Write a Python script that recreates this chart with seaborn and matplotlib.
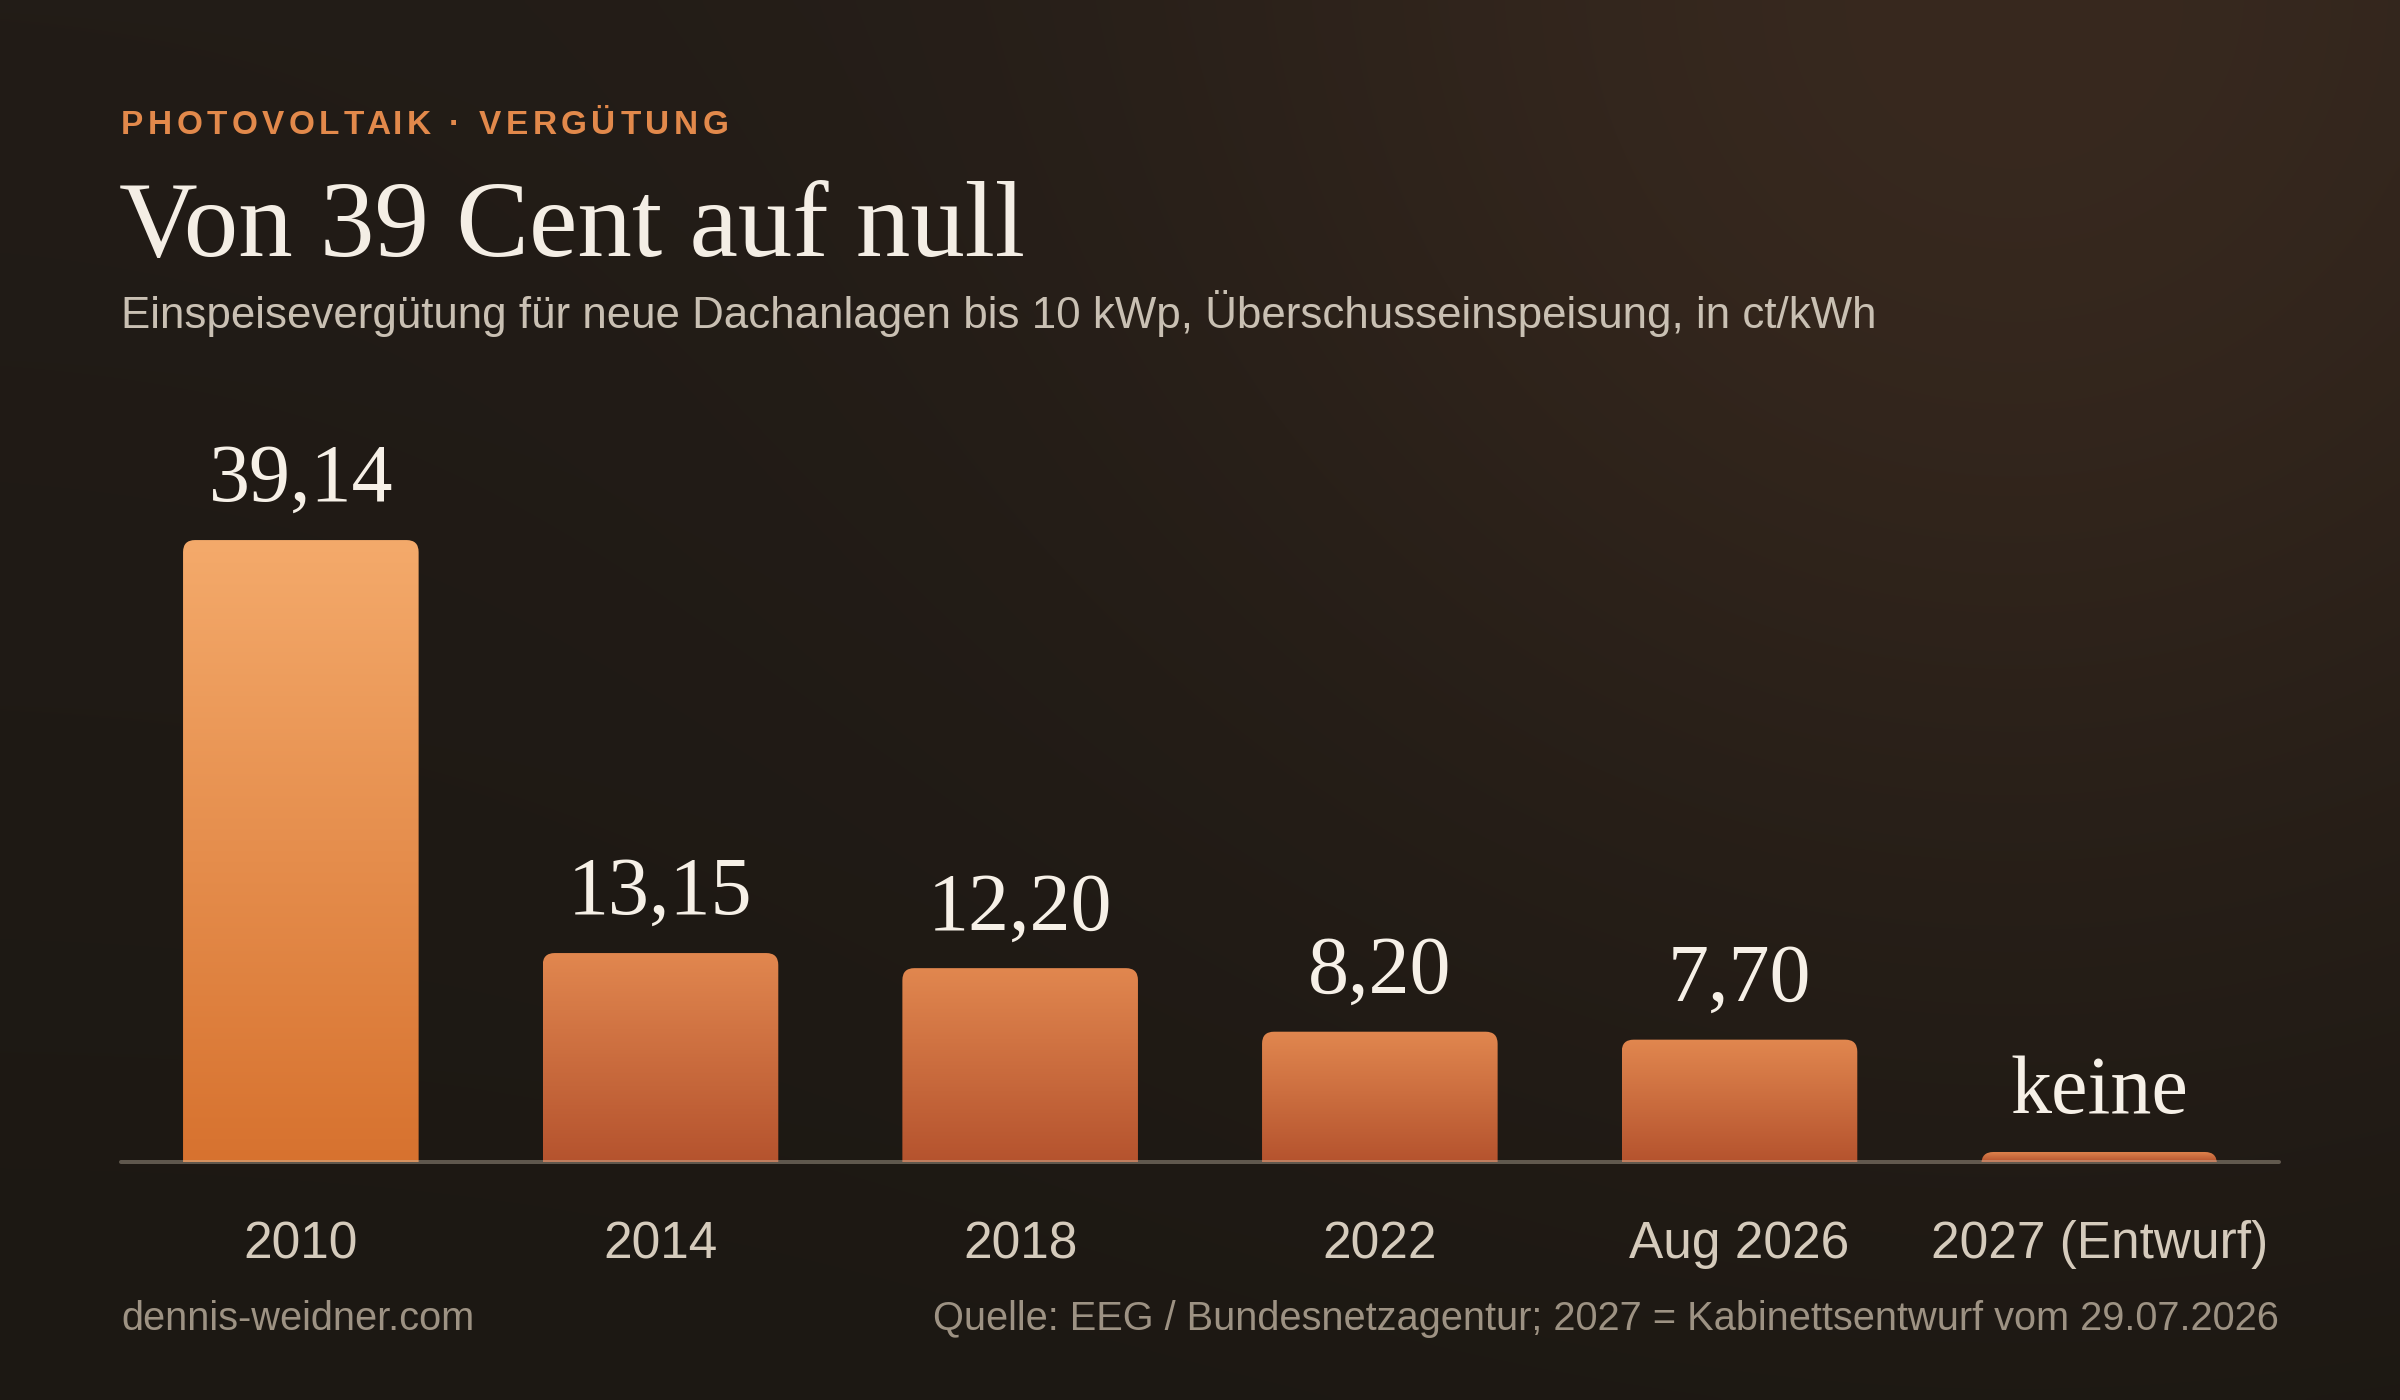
import numpy as np
import pandas as pd
import matplotlib
matplotlib.use("Agg")
import matplotlib.pyplot as plt
import matplotlib.transforms as mtransforms
from matplotlib.patches import FancyBboxPatch
from matplotlib.textpath import TextToPath
from matplotlib.font_manager import FontProperties
import seaborn as sns

# ---------------- data ----------------
categories = ["2010", "2014", "2018", "2022", "Aug 2026", "2027 (Entwurf)"]
values = [39.14, 13.15, 12.20, 8.20, 7.70, 0.0]
value_labels = ["39,14", "13,15", "12,20", "8,20", "7,70", "keine"]
highlight = [True, False, False, False, False, False]

kicker = "PHOTOVOLTAIK · VERGÜTUNG"
title = "Von 39 Cent auf null"
subtitle = "Einspeisevergütung für neue Dachanlagen bis 10 kWp, Überschusseinspeisung, in ct/kWh"
footer_left = "dennis-weidner.com"
footer_right = "Quelle: EEG / Bundesnetzagentur; 2027 = Kabinettsentwurf vom 29.07.2026"

# ---------------- style ----------------
W_PX, H_PX, DPI = 2400, 1400, 100
SANS = ["Liberation Sans", "DejaVu Sans"]
SERIF = ["Liberation Serif", "DejaVu Serif"]
C_KICK = "#e2894b"
C_TITLE = "#f4eee5"
C_SUB = "#c9c0b3"
C_TICK = "#d5cbbc"
C_FOOT = "#9d9283"
C_VAL = "#f6f0e7"
GRAD_HI = ("#f4aa6b", "#d7722f")
GRAD_LO = ("#e1874f", "#b5532e")
STUB = 0.63          # visual stub height for a zero bar
YMAX = 45
PX_PER_UNIT = 15.89

sns.set_theme(style="white")
plt.rcParams["font.family"] = SANS

fig = plt.figure(figsize=(W_PX / DPI, H_PX / DPI), dpi=DPI)

# ---------------- background ----------------
bg = fig.add_axes([0, 0, 1, 1], zorder=-10)
ny, nx = 280, 480
yy, xx = np.mgrid[0:1:ny * 1j, 0:1:nx * 1j]
base_top = np.array([34, 28, 23], float)
base_bot = np.array([28, 24, 19], float)
img = base_top[None, None, :] * (1 - yy[..., None]) + base_bot[None, None, :] * yy[..., None]
dx = (xx - 0.84) * 24
dy = (yy - 0.05) * 14
d = np.sqrt(dx ** 2 + dy ** 2)
g = np.exp(-(d / 8.5) ** 2)
img += g[..., None] * np.array([22, 13, 8], float)
bg.imshow(np.clip(img / 255, 0, 1), extent=[0, 1, 0, 1], aspect="auto",
          origin="upper", interpolation="bicubic")
bg.axis("off")

# ---------------- main axes ----------------
ax_left = 121 / W_PX
ax_bottom = 1 - 1162 / H_PX
ax_w = 2158 / W_PX
ax_h = YMAX * PX_PER_UNIT / H_PX
ax = fig.add_axes([ax_left, ax_bottom, ax_w, ax_h])
ax.set_facecolor("none")

df = pd.DataFrame({"Jahr": categories, "Wert": values})
sns.barplot(data=df, x="Jahr", y="Wert", order=categories, width=0.655,
            color=GRAD_LO[0], saturation=1, linewidth=0, ax=ax)
ax.set_xlim(-0.5, len(categories) - 0.5)
ax.set_ylim(0, YMAX)

x_px_per_unit = ax_w * W_PX / len(categories)
r_px = 12
rx = r_px / x_px_per_unit
ry = r_px / PX_PER_UNIT


def grad(c_top, c_bot, n=256):
    a = np.array(matplotlib.colors.to_rgb(c_top))
    b = np.array(matplotlib.colors.to_rgb(c_bot))
    t = np.linspace(0, 1, n)[:, None]
    col = a * (1 - t) + b * t
    return np.repeat(col[:, None, :], 2, axis=1)


bars = list(ax.patches)
for i, p in enumerate(bars):
    x0, w, h = p.get_x(), p.get_width(), p.get_height()
    p.set_visible(False)
    hd = max(h, STUB)
    fb = FancyBboxPatch((x0, -2 * ry), w, hd + 2 * ry,
                        boxstyle=f"round,pad=0,rounding_size={rx}",
                        mutation_aspect=ry / rx, facecolor="none",
                        edgecolor="none", transform=ax.transData)
    ax.add_patch(fb)
    cols = GRAD_HI if highlight[i] else GRAD_LO
    im = ax.imshow(grad(*cols), extent=[x0, x0 + w, 0, hd], aspect="auto",
                   origin="upper", interpolation="bilinear", zorder=2)
    im.set_clip_path(fb)
    ax.annotate(value_labels[i], (i, hd), xytext=(0, 28), textcoords="offset points",
                ha="center", va="baseline", fontsize=59, color=C_VAL,
                family=SERIF, zorder=6)

ax.set_xlim(-0.5, len(categories) - 0.5)
ax.set_ylim(0, YMAX)
ax.axhline(0, color=(0.84, 0.79, 0.71, 0.36), lw=2.9, zorder=5, clip_on=False)

for s in ax.spines.values():
    s.set_visible(False)
ax.set_yticks([])
ax.set_xlabel("")
ax.set_ylabel("")
ax.tick_params(axis="x", length=0, pad=42, labelsize=37, labelcolor=C_TICK)
for lab in ax.get_xticklabels():
    lab.set_family(SANS)
    lab.set_verticalalignment("top")
ax.grid(False)


# ---------------- texts ----------------
def fx(x):
    return x / W_PX


def fy(y):
    return 1 - y / H_PX


# kicker with letter spacing
KSIZE = 24
TRACK = 3.3  # points
kprop = FontProperties(family=SANS, weight="bold", size=KSIZE)
ttp = TextToPath()


def width_pts(s):
    if not s:
        return 0.0
    w, _, _ = ttp.get_text_width_height_descent(s + "|", kprop, ismath=False)
    w0, _, _ = ttp.get_text_width_height_descent("|", kprop, ismath=False)
    return w - w0


for i, ch in enumerate(kicker):
    off = width_pts(kicker[:i]) + TRACK * i
    tr = mtransforms.offset_copy(fig.transFigure, fig=fig, x=off, y=0, units="points")
    fig.text(fx(121), fy(134), ch, transform=tr, fontproperties=kprop,
             color=C_KICK, ha="left", va="baseline")

fig.text(fx(119), fy(256), title, family=SERIF, fontsize=78.5, color=C_TITLE,
         ha="left", va="baseline")
fig.text(fx(121), fy(328), subtitle, family=SANS, fontsize=31.6, color=C_SUB,
         ha="left", va="baseline")
fig.text(fx(121), fy(1330), footer_left, family=SANS, fontsize=28.6, color=C_FOOT,
         ha="left", va="baseline")
fig.text(fx(2279), fy(1330), footer_right, family=SANS, fontsize=28.6, color=C_FOOT,
         ha="right", va="baseline")

fig.savefig("out.png", dpi=DPI, facecolor=fig.get_facecolor())
